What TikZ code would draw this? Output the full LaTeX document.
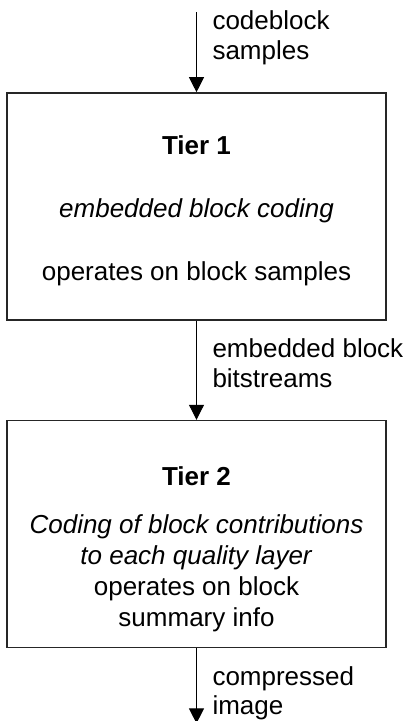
\documentclass[tikz,border=0pt]{standalone}
\usepackage{fontspec}
\setmainfont{Liberation Sans}
\usepackage{tikz}
\usetikzlibrary{arrows.meta,positioning}

\begin{document}
\begin{tikzpicture}[
  node distance=49.5pt,
  font=\fontsize{13}{15.5}\selectfont,
  tierbox/.style={draw=black!85, line width=0.8pt, minimum width=189.5pt, minimum height=113.5pt},
  tiertext/.style={align=center, inner sep=0pt},
  flowlabel/.style={align=left, inner sep=0pt, anchor=west, xshift=7.75pt, font=\fontsize{13}{14.75}\selectfont},
  arrow/.style={-{Triangle[width=7.5pt,length=7.5pt]}, line width=0.5pt}
]
\useasboundingbox (0,0) rectangle (205.5pt,-360.5pt);
\node[tierbox] (tierOne) at (98.25pt,-103.25pt) {};
\node[tierbox] (tierTwo) [below=of tierOne] {};
\node[tiertext] (tierOneText) [below=21.5pt of tierOne.north] {\textbf{Tier 1}\\[16pt] \textit{embedded block coding}\\[16pt] operates on block samples};
\node[tiertext] (tierTwoText) [below=23pt of tierTwo.north] {\textbf{Tier 2}\\[8.5pt] \textit{Coding of block contributions}\\ \textit{to each quality layer}\\ operates on block\\ summary info};
\coordinate (inSamples) at ([yshift=40pt]tierOne.north);
\coordinate (outImage) at ([yshift=-37.5pt]tierTwo.south);
\draw[arrow] (inSamples) -- node[flowlabel, pos=0.32] (samplesLabel) {codeblock\\samples} (tierOne);
\draw[arrow] (tierOne) -- node[flowlabel, pos=0.43] (streamsLabel) {embedded block\\bitstreams} (tierTwo);
\draw[arrow] (tierTwo) -- node[flowlabel, pos=0.6] (imageLabel) {compressed\\image} (outImage);
\end{tikzpicture}
\end{document}
